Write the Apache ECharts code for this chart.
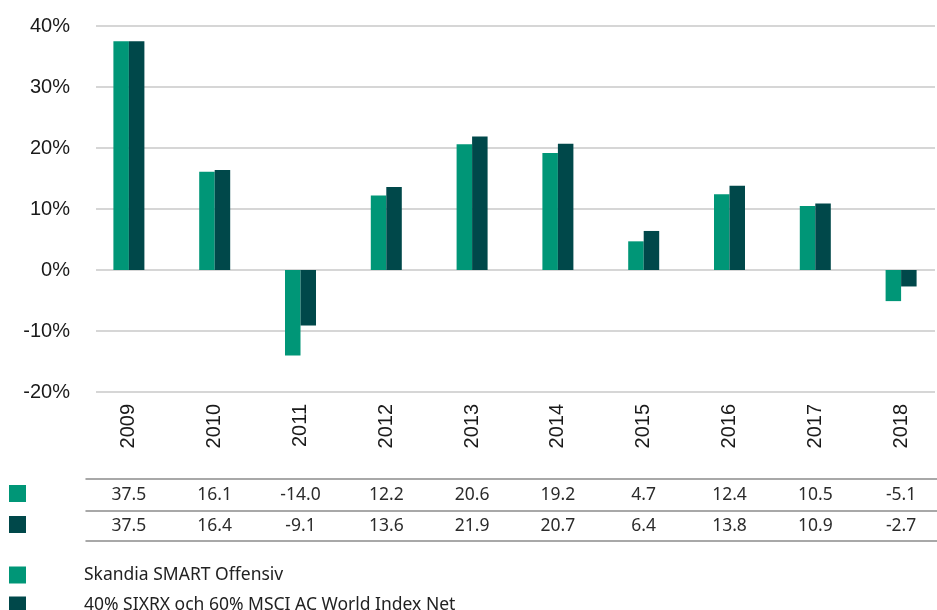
<!DOCTYPE html>
<html><head><meta charset="utf-8">
<script src="https://cdn.jsdelivr.net/npm/echarts@6/dist/echarts.min.js"></script>
<style>html,body{margin:0;padding:0;background:#fff;overflow:hidden}#c{width:950px;height:610px}</style>
</head><body><div id="c"></div>
<script>
const years = ['2009','2010','2011','2012','2013','2014','2015','2016','2017','2018'];
const fundName = 'Skandia SMART Offensiv';
const benchName = '40% SIXRX och 60% MSCI AC World Index Net';
const fundValues = [37.5, 16.1, -14.0, 12.2, 20.6, 19.2, 4.7, 12.4, 10.5, -5.1];
const benchValues = [37.5, 16.4, -9.1, 13.6, 21.9, 20.7, 6.4, 13.8, 10.9, -2.7];
const yMin = -20, yMax = 40, yStep = 10;
const colFund = '#009677', colBench = '#00484A';

const chart = echarts.init(document.getElementById('c'));
const tableFont = {fontFamily: 'Noto Sans', fontSize: 17.5, color: '#2b2b2b'};
const tableLine = {show: true, lineStyle: {color: '#8c8c8c', width: 1.5}};
function legendItem(name, top, withText) {
  const l = {left: 9, top: top, padding: 0, itemWidth: 17, itemHeight: 17, icon: 'rect',
    data: [name], selectedMode: false,
    textStyle: {fontFamily: 'Noto Sans', fontSize: 17.5, color: '#222', padding: [0, 0, 0, 53]}};
  if (!withText) l.formatter = () => '';
  return l;
}
chart.setOption({
  animation: false,
  grid: [
    {left: 86, top: 26, width: 858, height: 366},
    {left: 96, top: 26, right: 15, height: 366}
  ],
  legend: [
    legendItem(fundName, 485, false),
    legendItem(benchName, 516, false),
    legendItem(fundName, 566, true),
    legendItem(benchName, 596, true)
  ],
  xAxis: [
    {type: 'category', gridIndex: 0, data: years, axisLine: {show: false}, axisTick: {show: false},
     axisLabel: {rotate: 90, margin: 12, fontFamily: 'Liberation Sans', fontSize: 20, color: '#1a1a1a'}},
    {type: 'category', gridIndex: 0, position: 'bottom', offset: 87, data: fundValues.map(v => v.toFixed(1)),
     axisLine: tableLine, axisTick: {show: false}, axisLabel: Object.assign({margin: 7}, tableFont)},
    {type: 'category', gridIndex: 0, position: 'bottom', offset: 119, data: benchValues.map(v => v.toFixed(1)),
     axisLine: tableLine, axisTick: {show: false}, axisLabel: Object.assign({margin: 6}, tableFont)},
    {type: 'category', gridIndex: 0, position: 'bottom', offset: 149, data: years,
     axisLine: tableLine, axisTick: {show: false}, axisLabel: {show: false}},
    {type: 'category', gridIndex: 1, data: years, show: false}
  ],
  yAxis: [
    {type: 'value', gridIndex: 0, min: yMin, max: yMax, interval: yStep, show: false},
    {type: 'value', gridIndex: 1, min: yMin, max: yMax, interval: yStep,
     axisLine: {show: false}, axisTick: {show: false},
     splitLine: {lineStyle: {color: '#d6d6d6', width: 2}},
     axisLabel: {formatter: '{value}%', margin: 26, fontFamily: 'Liberation Sans', fontSize: 20, color: '#1a1a1a'}}
  ],
  series: [
    {name: fundName, type: 'bar', xAxisIndex: 0, yAxisIndex: 0, data: fundValues, barWidth: 15.5, barGap: '0%',
     itemStyle: {color: colFund}},
    {name: benchName, type: 'bar', xAxisIndex: 0, yAxisIndex: 0, data: benchValues, barWidth: 15.5, barGap: '0%',
     itemStyle: {color: colBench}}
  ]
});
</script></body></html>
